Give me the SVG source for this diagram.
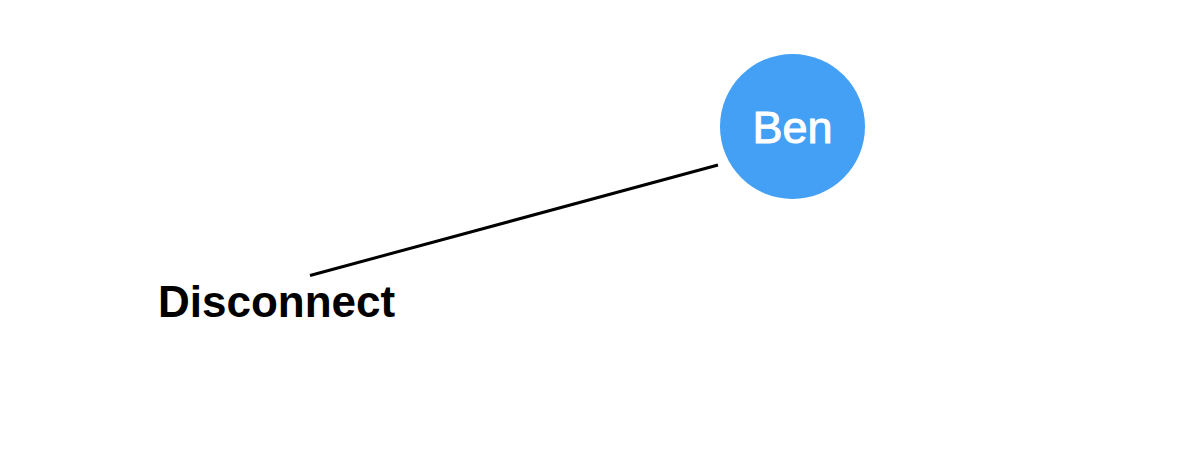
<svg xmlns="http://www.w3.org/2000/svg" width="1200" height="467" viewBox="0 0 1200 467">
<style>
.lbl{font-family:"Liberation Sans",Arial,sans-serif;font-weight:bold;font-size:44px;fill:#000}
.nt{font-family:"Liberation Sans",Arial,sans-serif;font-size:45px;fill:#fff;stroke:#fff;stroke-width:1;text-anchor:middle}
.edge{stroke:#000;stroke-width:3;fill:none}
</style>
<rect width="1200" height="467" fill="#fff"/>
<g id="connectors">
<line class="edge" x1="310" y1="275.5" x2="718" y2="165"/>
</g>
<g id="node-ben">
<circle cx="792.5" cy="126.5" r="72.5" fill="#43a0f5"/>
<text class="nt" x="792.5" y="143">Ben</text>
</g>
<g id="node-disconnect">
<text class="lbl" x="158" y="317">Disconnect</text>
</g>
</svg>
